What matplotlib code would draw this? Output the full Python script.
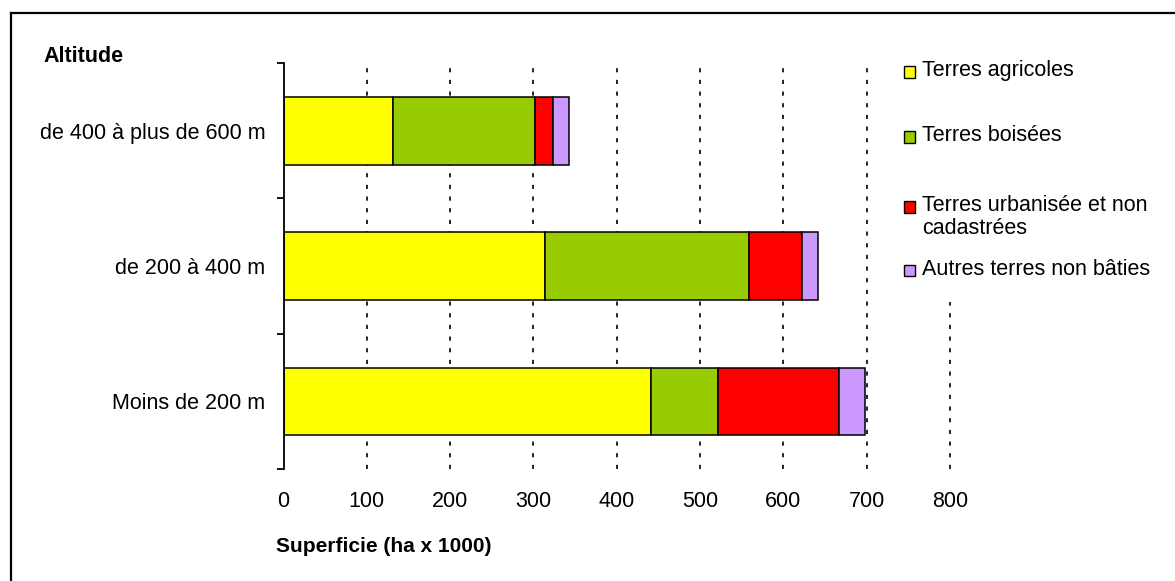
import matplotlib.pyplot as plt
from matplotlib.patches import Rectangle
from matplotlib.lines import Line2D

plt.rcParams['font.family'] = ['Liberation Sans', 'DejaVu Sans']

# altitude bands, bottom to top
altitudes = ['Moins de 200 m', 'de 200 à 400 m', 'de 400 à plus de 600 m']
series = ['Terres agricoles', 'Terres boisées',
          'Terres urbanisée et non\ncadastrées', 'Autres terres non bâties']
agricoles = [441, 314, 132]
boisees = [80, 245, 170]
urbanisees = [146, 63, 22]
autres = [31, 19, 19]
colors = ['#FFFF00', '#99CC00', '#FF0000', '#CC99FF']
xticks = [0, 100, 200, 300, 400, 500, 600, 700, 800]

W, H = 1175, 581
fig = plt.figure(figsize=(W / 100, H / 100), dpi=100)
ax = fig.add_axes([283.5 / W, 1 - 469 / H, (950 - 283.5) / W, (469 - 63) / H])

y = list(range(len(altitudes)))
left = [0] * len(altitudes)
for vals, c in zip([agricoles, boisees, urbanisees, autres], colors):
    ax.barh(y, vals, left=left, height=0.5, color=c, edgecolor='black',
            linewidth=1.1, zorder=3)
    left = [a + b for a, b in zip(left, vals)]

ax.set_xlim(0, 800)
ax.set_ylim(-0.5, 2.5)

# dashed vertical grid
for xv in xticks[1:]:
    ax.axvline(xv, color='black', linewidth=1.2, linestyle=(0, (2.5, 4.5)),
               zorder=1, clip_on=False)

for s in ['top', 'right', 'bottom']:
    ax.spines[s].set_visible(False)
ax.spines['left'].set_linewidth(1.3)
ax.spines['left'].set_zorder(4)

ax.set_xticks(xticks)
ax.set_xticklabels([str(v) for v in xticks], fontsize=15.5)
ax.tick_params(axis='x', length=0, pad=16)

ax.set_yticks([-0.5, 0.5, 1.5, 2.5])
ax.set_yticklabels([])
ax.tick_params(axis='y', which='major', length=5, width=1.3, direction='out')
ax.set_yticks(y, minor=True)
ax.set_yticklabels(altitudes, minor=True, fontsize=15.5)
ax.tick_params(axis='y', which='minor', length=0, pad=13)

fig.text(43 / W, 1 - 57 / H, 'Altitude', fontsize=15.5, fontweight='bold',
         ha='left', va='center')
fig.text(276 / W, 1 - 547 / H, 'Superficie (ha x 1000)', fontsize=15,
         fontweight='bold', ha='left', va='center')

# legend area hides the top of the 800 gridline
fig.patches.append(Rectangle((895 / W, 1 - 302 / H), 280 / W, 242 / H,
                             transform=fig.transFigure, facecolor='white',
                             edgecolor='none', zorder=2))
leg_y = [72, 137, 207, 271]
for lab, c, yy in zip(series, colors, leg_y):
    fig.patches.append(Rectangle((904 / W, 1 - (yy + 5.5) / H), 11 / W, 11 / H,
                                 transform=fig.transFigure, facecolor=c,
                                 edgecolor='black', linewidth=1.0, zorder=3))
    fig.text(922 / W, 1 - (yy - 12) / H, lab, fontsize=15.5, ha='left',
             va='top', linespacing=1.15, zorder=3)

# outer frame
fig.lines.append(Line2D([11 / W, 1], [1 - 13 / H, 1 - 13 / H],
                        transform=fig.transFigure, color='black', linewidth=1.6))
fig.lines.append(Line2D([11 / W, 11 / W], [0, 1 - 13 / H],
                        transform=fig.transFigure, color='black', linewidth=1.6))

fig.savefig('out.png', dpi=100)
